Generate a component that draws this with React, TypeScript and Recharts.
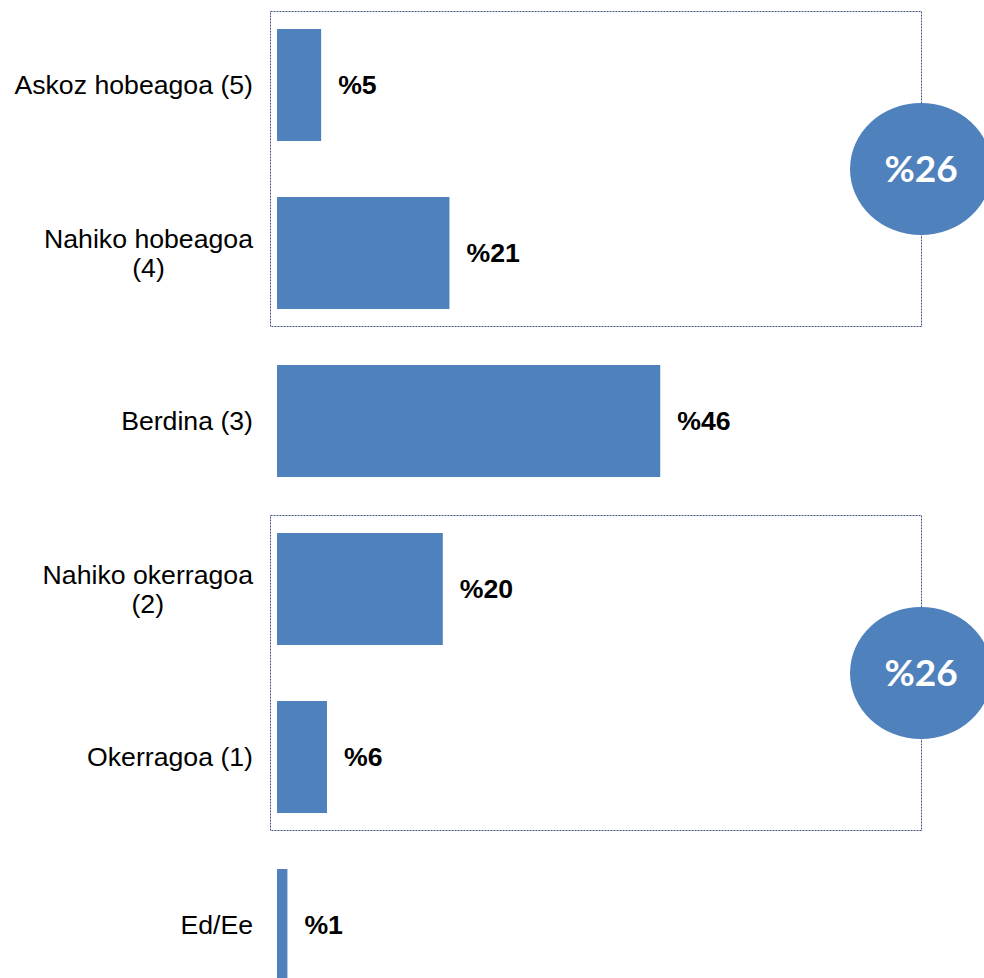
import { BarChart, Bar, XAxis, YAxis, LabelList, ReferenceArea } from "recharts";

const CATEGORIES = [
  "Askoz hobeagoa (5)",
  "Nahiko hobeagoa\n(4)",
  "Berdina (3)",
  "Nahiko okerragoa\n(2)",
  "Okerragoa (1)",
  "Ed/Ee",
];
const VALUES = [5.3, 20.7, 46, 19.9, 6.0, 1.25];

// grouped totals (better / worse)
const GROUPS = [
  { from: 0, to: 1 },
  { from: 3, to: 4 },
];

const BAR_COLOR = "#4F81BD";
const BOX_COLOR = "#3F5280";
const LABEL_FONT = "'Liberation Sans', Arial, sans-serif";
const FONT_SIZE = 26.67;
const LINE_H = 29.5;

const data = CATEGORIES.map((name, i) => ({ name, value: VALUES[i] }));

let ctx: CanvasRenderingContext2D | null = null;
function measure(text: string) {
  if (!ctx) ctx = document.createElement("canvas").getContext("2d");
  if (!ctx) return text.length * FONT_SIZE * 0.5;
  ctx.font = `${FONT_SIZE}px 'Liberation Sans'`;
  return ctx.measureText(text).width;
}

function CategoryTick(props: any) {
  const { x, y, payload } = props;
  const lines = String(payload.value).split("\n");
  const blockW = Math.max(...lines.map(measure));
  const cx = x - blockW / 2;
  return (
    <g>
      {lines.map((line, i) => (
        <text
          key={i}
          x={cx}
          y={y + (i - (lines.length - 1) / 2) * LINE_H}
          dy="0.355em"
          textAnchor="middle"
          fontFamily={LABEL_FONT}
          fontSize={FONT_SIZE}
          fill="#000"
        >
          {line}
        </text>
      ))}
    </g>
  );
}

function GroupBox(total: number) {
  return (props: any) => {
    const { x, y, width, height } = props;
    const cy = y + height / 2;
    const right = x + width;
    return (
      <g>
        <rect
          x={Math.round(x - 7) + 0.5}
          y={Math.round(y + 10) + 0.5}
          width={Math.round(width + 7)}
          height={Math.round(height - 21)}
          fill="none"
          stroke={BOX_COLOR}
          strokeWidth={1}
          strokeDasharray="2 1"
        />
        <ellipse cx={right} cy={cy} rx={71} ry={66} fill={BAR_COLOR} />
        <text
          x={right}
          y={cy}
          dy="0.36em"
          textAnchor="middle"
          fontFamily="Lato, 'Open Sans', sans-serif"
          fontWeight="bold"
          fontSize={37}
          fill="#fff"
        >
          {`%${total}`}
        </text>
      </g>
    );
  };
}

export default function App() {
  return (
    <div style={{ position: "absolute", left: 0, top: 0, background: "#fff" }}>
      <BarChart
        width={984}
        height={1011}
        data={data}
        layout="vertical"
        margin={{ top: 1, right: 63, left: 0, bottom: 2 }}
      >
        <XAxis type="number" domain={[0, 77.3]} hide />
        <YAxis
          type="category"
          dataKey="name"
          width={277}
          axisLine={false}
          tickLine={false}
          tickSize={0}
          tickMargin={24}
          interval={0}
          tick={<CategoryTick />}
        />
        {GROUPS.map((g, i) => {
          const total = Math.round(VALUES.slice(g.from, g.to + 1).reduce((a, b) => a + b, 0));
          return (
            <ReferenceArea
              key={i}
              y1={CATEGORIES[g.from]}
              y2={CATEGORIES[g.to]}
              ifOverflow="visible"
              shape={GroupBox(total)}
            />
          );
        })}
        <Bar dataKey="value" fill={BAR_COLOR} barSize={112} isAnimationActive={false}>
          <LabelList
            dataKey="value"
            position="right"
            offset={17}
            formatter={(v: any) => `%${Math.round(Number(v))}`}
            fill="#000"
            fontFamily={LABEL_FONT}
            fontWeight="bold"
            fontSize={FONT_SIZE}
          />
        </Bar>
      </BarChart>
    </div>
  );
}
